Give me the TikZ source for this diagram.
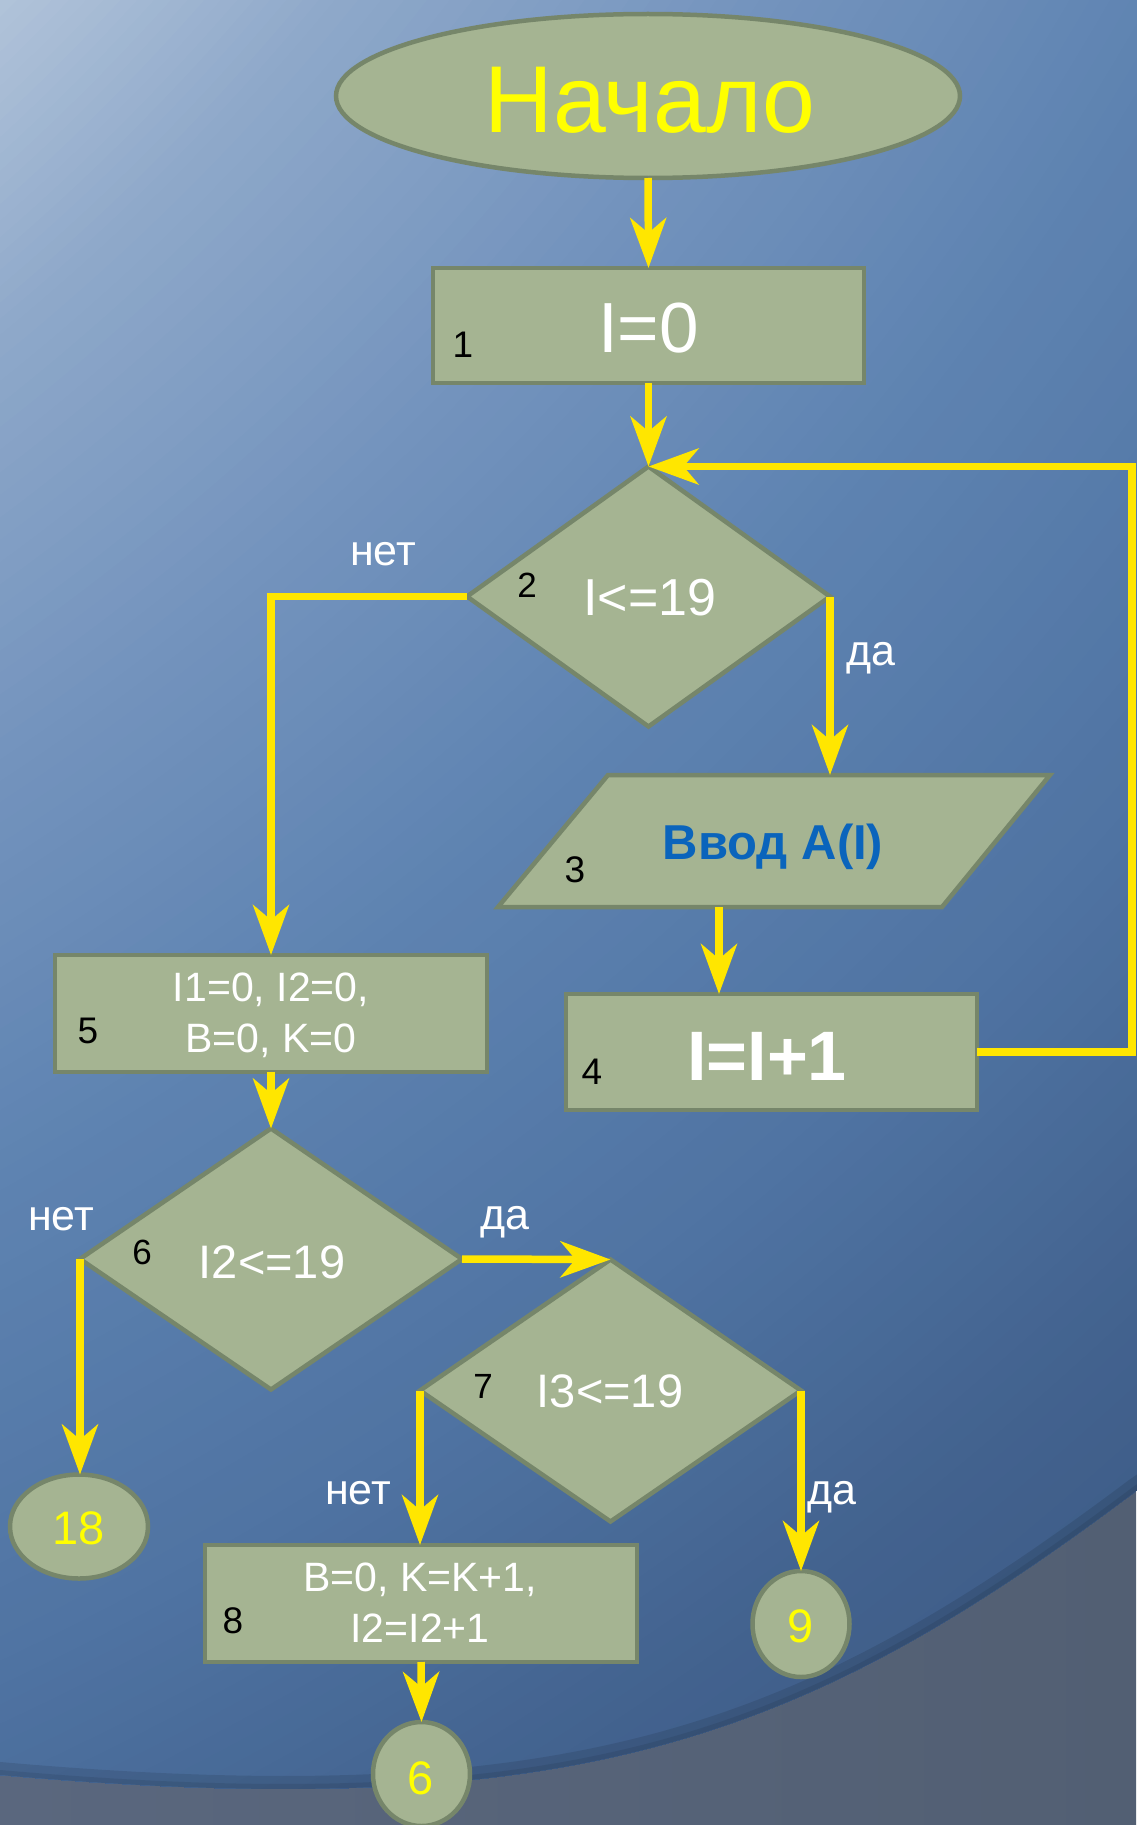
\documentclass[tikz,border=0pt]{standalone}
\usepackage{fontspec}
\setmainfont{Liberation Sans}
\usetikzlibrary{shapes.geometric,arrows.meta}
\definecolor{shapefill}{HTML}{A5B492}
\definecolor{shapeedge}{HTML}{76866A}
\definecolor{arrowyellow}{HTML}{FFE600}
\definecolor{titleyellow}{HTML}{FFFF00}
\definecolor{inblue}{HTML}{0A64BC}
\definecolor{outerL}{HTML}{5A677E}
\definecolor{outerR}{HTML}{525F73}
\definecolor{bgA}{HTML}{B2C4DA}
\definecolor{bgB}{HTML}{8FA9CA}
\definecolor{bgC}{HTML}{7393BD}
\definecolor{bgD}{HTML}{5E83B1}
\definecolor{bgE}{HTML}{4F73A2}
\definecolor{bgF}{HTML}{42628E}
\definecolor{bgG}{HTML}{3A5782}
\newcommand\FSz[2]{\fontsize{#1}{#2}\selectfont}
% concentric bands: outer radius, inner radius, outer colour, inner colour
\newcommand\gradband[4]{\foreach \k in {0,...,19}{\pgfmathsetmacro\rr{#1-(#1-#2)*\k/20}\pgfmathsetmacro\pp{5*\k}\fill[#4!\pp!#3] (-1500,-1500) circle (\rr pt);}}
\begin{document}
\begin{tikzpicture}[x=1pt,y=-1pt,
  shapebox/.style={draw=shapeedge, fill=shapefill, line width=4.5pt, inner sep=0pt, outer sep=0pt},
  conn/.style={draw=arrowyellow, line width=7.5pt, -{Stealth[length=50pt,width=36pt,inset=15pt]}},
  numtxt/.style={text=black, font=\FSz{37}{44}, anchor=base, inner sep=0pt},
  maintxt/.style={text=white, anchor=base, inner sep=0pt},
  lbl/.style={text=white, font=\FSz{43}{50}, anchor=base, inner sep=0pt},
  circtxt/.style={text=titleyellow, font=\FSz{47}{56}, anchor=base, inner sep=0pt}]
\useasboundingbox (0,0) rectangle (1136,1825);
% background
\shade[left color=outerL, right color=outerR] (0,0) rectangle (1136,1825);
\begin{scope}
  \clip (-10,-10) -- (1146,-10) -- (1146,1484) -- (1136,1491) .. controls (806,1738.5) and (580,1826) .. (0,1775) -- (-10,1774) -- cycle;
  \fill[bgG] (0,0) rectangle (1136,1825);
  \gradband{4250}{3870}{bgG}{bgF}
  \gradband{3870}{3520}{bgF}{bgE}
  \gradband{3520}{3080}{bgE}{bgD}
  \gradband{3080}{2730}{bgD}{bgC}
  \gradband{2730}{2370}{bgC}{bgB}
  \gradband{2370}{2121}{bgB}{bgA}
  \fill[bgA] (-1500,-1500) circle (2121pt);
  \draw[black, opacity=0.10, line width=26pt] (1146,1484) -- (1136,1491) .. controls (806,1738.5) and (580,1826) .. (0,1775) -- (-10,1774);
  \draw[black, opacity=0.08, line width=10pt] (1146,1484) -- (1136,1491) .. controls (806,1738.5) and (580,1826) .. (0,1775) -- (-10,1774);
\end{scope}
% shapes
\node[shapebox, ellipse, minimum width=624pt, minimum height=164pt] (start) at (648,96) {};
\node[shapebox, rectangle, minimum width=431pt, minimum height=115pt] (b1) at (648.5,325.5) {};
\node[shapebox, diamond, minimum width=363pt, minimum height=260pt] (d2) at (648.5,596.5) {};
\draw[shapebox] (498,907) -- (608,775) -- (1050,775) -- (942,907) -- cycle;
\coordinate (p3in) at (829,775);
\coordinate (p3out) at (719,907);
\node[shapebox, rectangle, minimum width=411pt, minimum height=116pt] (b4) at (771.5,1052) {};
\node[shapebox, rectangle, minimum width=432pt, minimum height=117pt] (b5) at (271,1013.5) {};
\node[shapebox, diamond, minimum width=382pt, minimum height=261pt] (d6) at (271,1259) {};
\node[shapebox, diamond, minimum width=381pt, minimum height=262pt] (d7) at (610.5,1390.5) {};
\node[shapebox, ellipse, minimum width=138pt, minimum height=104pt] (c18) at (79,1526.5) {};
\node[shapebox, rectangle, minimum width=432pt, minimum height=117pt] (b8) at (421,1603.5) {};
\node[shapebox, ellipse, minimum width=97pt, minimum height=106pt] (c9) at (801,1624) {};
\node[shapebox, ellipse, minimum width=97pt, minimum height=104pt] (c6) at (421.5,1774) {};
\coordinate (loopR) at (1132,1052);
% connectors
\draw[conn] (start.south) -- (b1.north);
\draw[conn] (b1.south) -- (d2.north);
\draw[conn] (b4.east) -- (loopR) |- (d2.north);
\draw[conn] (d2.west) -| (b5.north);
\draw[conn] (d2.east) -- (d2.east |- p3in);
\draw[conn] (p3out) -- (p3out |- b4.north);
\draw[conn] (b5.south) -- (d6.north);
\draw[conn] (d6.east) -- (d7.north);
\draw[conn] (d6.west) -- (d6.west |- c18.north);
\draw[conn] (d7.west) -- (d7.west |- b8.north);
\draw[conn] (d7.east) -- (d7.east |- c9.north);
\draw[conn] (b8.south) -- (c6.north);
% texts
\node[font=\FSz{95}{110}, text=titleyellow, anchor=base, inner sep=0pt] (t0) at (650,132) {Начало};
\node[maintxt, font=\FSz{71}{80}] (t1) at (648.5,352) {I=0};
\node[numtxt] (n1) at (463,357) {1};
\node[numtxt, font=\FSz{35}{40}] (n2) at (527,597) {2};
\node[maintxt, font=\FSz{52}{60}] (t2) at (650,615) {I<=19};
\node[lbl] (l2no) at (383,565) {нет};
\node[lbl] (l2yes) at (871,665) {да};
\node[numtxt] (n3) at (575,882) {3};
\node[font=\bfseries\FSz{49}{56}, text=inblue, anchor=base, inner sep=0pt] (t3) at (773,859) {Ввод A(I)};
\node[numtxt] (n4) at (592,1084) {4};
\node[maintxt, font=\bfseries\FSz{70}{80}] (t4) at (767,1080) {I=I+1};
\node[numtxt] (n5) at (88,1043) {5};
\node[maintxt, font=\FSz{41}{51}, align=center, anchor=center] (t5) at (271,1015) {I1=0, I2=0,\\B=0, K=0};
\node[numtxt, font=\FSz{35}{40}] (n6) at (142,1264) {6};
\node[maintxt, font=\FSz{47}{56}] (t6) at (272,1278) {I2<=19};
\node[lbl] (l6no) at (61,1230) {нет};
\node[lbl] (l6yes) at (505,1229) {да};
\node[numtxt, font=\FSz{35}{40}] (n7) at (483,1398) {7};
\node[maintxt, font=\FSz{47}{56}] (t7) at (610,1407) {I3<=19};
\node[lbl] (l7no) at (358,1504) {нет};
\node[lbl] (l7yes) at (832,1504) {да};
\node[numtxt] (n8) at (233,1633) {8};
\node[maintxt, font=\FSz{41}{51}, align=center, anchor=center] (t8) at (420,1603) {B=0, K=K+1,\\I2=I2+1};
\node[circtxt] (t18) at (79,1544) {18};
\node[circtxt] (t9) at (801,1642) {9};
\node[circtxt] (t6c) at (421,1794) {6};
\end{tikzpicture}
\end{document}
